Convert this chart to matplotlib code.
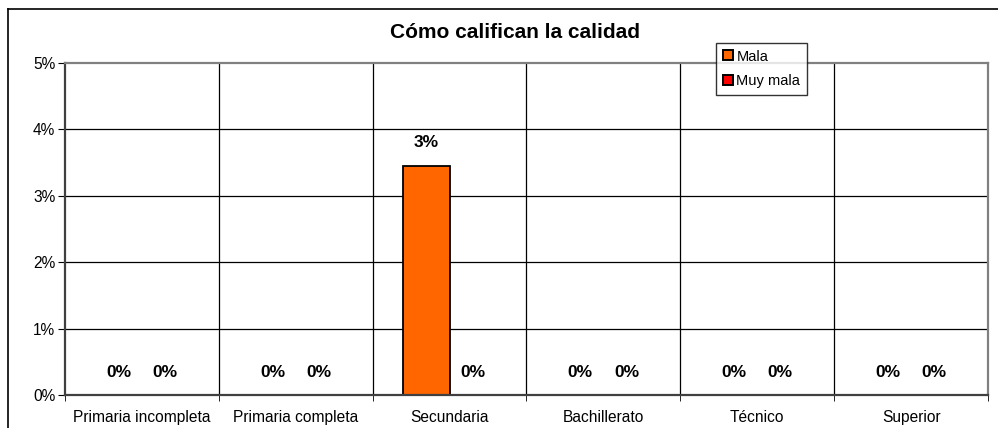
import numpy as np
import matplotlib.pyplot as plt
from matplotlib.lines import Line2D

plt.rcParams['font.family'] = ['Liberation Sans', 'DejaVu Sans']

categories = ['Primaria incompleta', 'Primaria completa', 'Secundaria',
              'Bachillerato', 'Técnico', 'Superior']
mala = [0.0, 0.0, 3.45, 0.0, 0.0, 0.0]
muy_mala = [0.0, 0.0, 0.0, 0.0, 0.0, 0.0]
series_names = ['Mala', 'Muy mala']
colors = ['#FF6600', '#FF0000']

fig = plt.figure(figsize=(9.98, 4.28), dpi=100)
ax = fig.add_axes([65 / 998, 1 - 395 / 428, (988 - 65) / 998, (395 - 62.7) / 428])

x = np.arange(len(categories))
w = 0.3
b1 = ax.bar(x - w / 2, mala, w, color=colors[0], edgecolor='black', linewidth=1.3, label=series_names[0])
b2 = ax.bar(x + w / 2, muy_mala, w, color=colors[1], edgecolor='black', linewidth=1.3, label=series_names[1])

for bars, vals in [(b1, mala), (b2, muy_mala)]:
    for r, v in zip(bars, vals):
        ax.annotate('%d%%' % round(v), (r.get_x() + r.get_width() / 2, v),
                    xytext=(0, 11), textcoords='offset points', ha='center', va='bottom',
                    fontsize=12.5, fontweight='bold')

ax.set_xlim(-0.5, len(categories) - 0.5)
ax.set_ylim(0, 5)
ax.set_yticks(range(0, 6))
ax.set_yticklabels(['%d%%' % v for v in range(0, 6)], fontsize=11.2)
ax.set_xticks(x)
ax.set_xticklabels(categories, fontsize=11.2)
ax.tick_params(axis='x', which='major', length=0, pad=11)
ax.set_xticks(np.arange(-0.5, len(categories)), minor=True)
ax.tick_params(axis='x', which='minor', length=4, direction='out')
ax.tick_params(axis='y', length=5, direction='out', pad=2)

for yv in range(1, 5):
    ax.axhline(yv, color='black', linewidth=0.9, zorder=0)
for xv in np.arange(0.5, len(categories) - 1):
    ax.axvline(xv, color='black', linewidth=0.9, zorder=0)

for s in ['left', 'bottom']:
    ax.spines[s].set_color('#404040')
    ax.spines[s].set_linewidth(1.6)
for s in ['top', 'right']:
    ax.spines[s].set_color('#808080')
    ax.spines[s].set_linewidth(1.6)

fig.text(515 / 998, 1 - 33 / 428, 'Cómo califican la calidad',
         ha='center', va='center', fontsize=15, fontweight='bold')

handles = [Line2D([], [], marker='s', linestyle='none', markersize=7.5,
                  markerfacecolor=c, markeredgecolor='black', markeredgewidth=1.4)
           for c in colors]
leg = fig.legend(handles, series_names, loc='upper left',
                 bbox_to_anchor=(716 / 998, 1 - 43 / 428), fontsize=10.5,
                 frameon=True, fancybox=False, handlelength=0.7, handletextpad=0.25,
                 borderpad=0.45, labelspacing=0.75, borderaxespad=0)
leg.get_frame().set_edgecolor('black')
leg.get_frame().set_linewidth(1.0)

# outer frame of the chart
fig.add_artist(Line2D([8 / 998, 8 / 998], [0, 1 - 9 / 428], color='black', linewidth=1.2))
fig.add_artist(Line2D([8 / 998, 1], [1 - 9 / 428, 1 - 9 / 428], color='black', linewidth=1.2))

fig.savefig('out.png', dpi=100)
